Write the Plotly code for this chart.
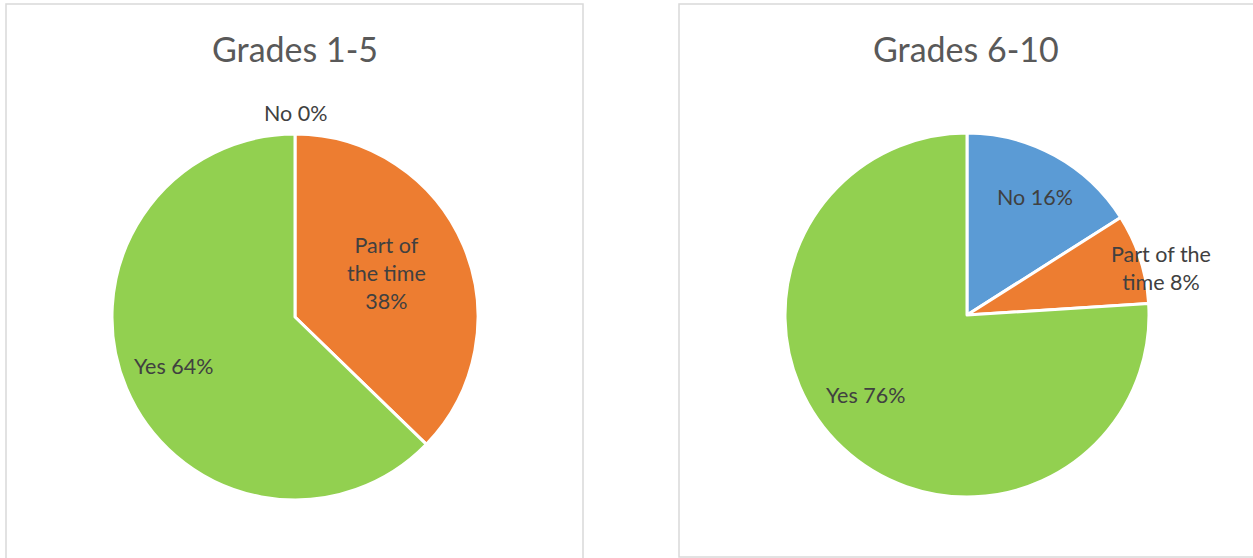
import plotly.graph_objects as go

W, H = 1253, 558

categories = ["No", "Part of the time", "Yes"]
grades_1_5 = [0, 38, 64]
grades_6_10 = [16, 8, 76]
titles = ["Grades 1-5", "Grades 6-10"]
colors = ["#5B9BD5", "#ED7D31", "#92D050"]

FONT = "Lato"


def px(x, y):
    return x / W, 1 - y / H


def pie_domain(cx, cy, r):
    return dict(x=[(cx - r) / W, (cx + r) / W],
                y=[1 - (cy + r) / H, 1 - (cy - r) / H])


fig = go.Figure()

# Left pie
fig.add_trace(go.Pie(
    labels=categories, values=grades_1_5, sort=False,
    direction="clockwise", rotation=0,
    marker=dict(colors=colors, line=dict(color="white", width=3)),
    textinfo="none", hoverinfo="label+value",
    domain=pie_domain(295, 317, 183),
))

# Right pie
fig.add_trace(go.Pie(
    labels=categories, values=grades_6_10, sort=False,
    direction="clockwise", rotation=0,
    marker=dict(colors=colors, line=dict(color="white", width=3)),
    textinfo="none", hoverinfo="label+value",
    domain=pie_domain(967, 315, 182),
))

# data labels (text built from the data, placed like Excel's best fit)
left_labels = [
    (f"{categories[0]} {grades_1_5[0]}%", 295, 113),
    (f"Part of<br>the time<br>{grades_1_5[1]}%", 386, 273),
    (f"{categories[2]} {grades_1_5[2]}%", 173, 366),
]
right_labels = [
    (f"{categories[0]} {grades_6_10[0]}%", 1035, 197),
    (f"Part of the<br>time {grades_6_10[1]}%", 1161, 268),
    (f"{categories[2]} {grades_6_10[2]}%", 865, 395),
]
for txt, x, y in left_labels + right_labels:
    ax, ay = px(x, y)
    fig.add_annotation(text=txt, x=ax, y=ay, xref="paper", yref="paper",
                       showarrow=False, xanchor="center", yanchor="middle",
                       font=dict(family=FONT, size=21.5, color="#404040"))

# chart titles
for t, x in zip(titles, [295, 966]):
    ax, ay = px(x, 48)
    fig.add_annotation(text=t, x=ax, y=ay, xref="paper", yref="paper",
                       showarrow=False, xanchor="center", yanchor="middle",
                       font=dict(family=FONT, size=34, color="#595959"))

# panel borders
border = dict(color="#D9D9D9", width=1.5)
fig.add_shape(type="rect", xref="paper", yref="paper",
              x0=6 / W, x1=583 / W, y0=-0.05, y1=1 - 4 / H, line=border)
fig.add_shape(type="rect", xref="paper", yref="paper",
              x0=679 / W, x1=1.05, y0=1 - 557 / H, y1=1 - 4 / H, line=border)

fig.update_layout(
    width=W, height=H,
    margin=dict(l=0, r=0, t=0, b=0),
    showlegend=False,
    paper_bgcolor="white",
    plot_bgcolor="white",
)

fig.write_html("out.html", config={"displayModeBar": False},
               post_script="document.body.style.margin='0';")
